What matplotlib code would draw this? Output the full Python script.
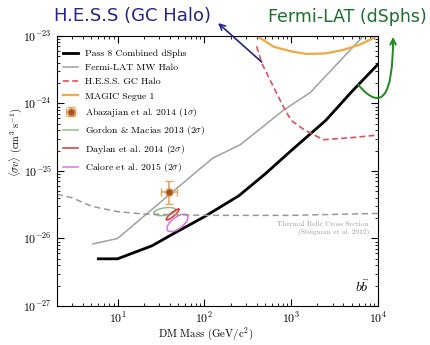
import numpy as np
import matplotlib
matplotlib.use("Agg")
import matplotlib.pyplot as plt

plt.rcParams.update({
    "font.family": "serif",
    "font.serif": ["cmr10", "DejaVu Serif"],
    "mathtext.fontset": "cm",
    "axes.formatter.use_mathtext": True,
    "axes.unicode_minus": False,
})

# --- limits (mass in GeV, <sigma v> in cm^3 s^-1) ---
pass8_mass = [6, 10, 25, 40, 100, 250, 500, 1000, 2500, 5000, 10000]
pass8_sv = [5.0e-27, 5.0e-27, 7.8e-27, 1.1e-26, 2.1e-26, 4.3e-26, 9.0e-26,
            2.0e-25, 5.6e-25, 1.5e-24, 3.8e-24]

mwhalo_mass = [5.2, 10, 83, 125, 260, 810, 1660, 6800, 10000]
mwhalo_sv = [8.3e-27, 1.0e-26, 1.0e-25, 1.55e-25, 2.45e-25, 7.9e-25,
             1.45e-24, 1.0e-23, 1.6e-23]

hess_mass = [400, 460, 810, 1000, 1400, 2350, 4800, 10000]
hess_sv = [7.0e-24, 3.9e-24, 9.0e-25, 5.6e-25, 4.1e-25, 2.9e-25, 3.1e-25, 3.4e-25]

magic_mass = [400, 630, 1000, 1500, 2500, 4000, 6300, 10000]
magic_sv = [1.0e-23, 6.9e-24, 5.9e-24, 5.4e-24, 5.5e-24, 6.2e-24, 7.5e-24, 1.0e-23]

thermal_mass = [2, 3, 5, 10, 20, 100, 1000, 10000]
thermal_sv = [4.5e-26, 4.0e-26, 3.0e-26, 2.5e-26, 2.3e-26, 2.2e-26, 2.2e-26, 2.35e-26]

# Abazajian et al. 2014 best fit with 1-sigma errors
aba_mass = 39.0
aba_sv = 4.9e-26
aba_mass_err = [[7.4], [9.0]]
aba_sv_err = [[1.7e-26], [2.3e-26]]

# GC excess contours: centre mass, centre <sigma v>, semi-axes (decades), tilt (deg)
gordon = (35.0, 2.5e-26, 0.13, 0.055, 12)
daylan = (43.0, 2.26e-26, 0.105, 0.025, 48)
calore = (49.0, 1.7e-26, 0.16, 0.075, 48)

x_ticks = [10, 100, 1000, 10000]
y_ticks = [1e-27, 1e-26, 1e-25, 1e-24, 1e-23]


def ellipse_curve(m0, sv0, a, b, ang_deg, n=200):
    t = np.linspace(0, 2 * np.pi, n)
    th = np.deg2rad(ang_deg)
    lx = np.log10(m0) + a * np.cos(t) * np.cos(th) - b * np.sin(t) * np.sin(th)
    ly = np.log10(sv0) + a * np.cos(t) * np.sin(th) + b * np.sin(t) * np.cos(th)
    return 10 ** lx, 10 ** ly


fig = plt.figure(figsize=(4.31, 3.45), dpi=100)
ax = fig.add_axes([0.132, 0.113, 0.745, 0.783])

handles = []
handles += ax.plot(pass8_mass, pass8_sv, color="black", lw=2.0, label="Pass 8 Combined dSphs")
handles += ax.plot(mwhalo_mass, mwhalo_sv, color="#a0a0a0", lw=1.1, label="Fermi-LAT MW Halo")
handles += ax.plot(hess_mass, hess_sv, color="#e0505a", lw=1.2, ls=(0, (3.5, 2)),
                   label="H.E.S.S. GC Halo")
handles += ax.plot(magic_mass, magic_sv, color="#f0a840", lw=1.6, label="MAGIC Segue 1")
handles.append(ax.errorbar([aba_mass], [aba_sv], xerr=aba_mass_err, yerr=aba_sv_err,
                           fmt="o", color="#a0522d", ms=5, mec="#d08840",
                           ecolor="#e8a860", elinewidth=1.2, capsize=3,
                           label=r"Abazajian et al. 2014 (1$\sigma$)"))
for params, col, lab in [(gordon, "#8fbf7f", r"Gordon & Macias 2013 (2$\sigma$)"),
                         (daylan, "#e03030", r"Daylan et al. 2014 (2$\sigma$)"),
                         (calore, "#e070e0", r"Calore et al. 2015 (2$\sigma$)")]:
    ex, ey = ellipse_curve(*params)
    handles += ax.plot(ex, ey, color=col, lw=1.1, label=lab)
ax.plot(thermal_mass, thermal_sv, color="#999999", lw=1.1, ls=(0, (4, 2.5)))

ax.set_xscale("log")
ax.set_yscale("log")
ax.set_xticks(x_ticks)
ax.set_yticks(y_ticks)
ax.set_xlim(2, 1e4)
ax.set_ylim(1e-27, 1e-23)
ax.tick_params(which="both", direction="in", top=True, right=True, labelsize=8.5)
ax.tick_params(which="major", length=5)
ax.tick_params(which="minor", length=2.5)

ax.set_xlabel(r"DM Mass (GeV/c$^2$)", fontsize=7.8)
ax.xaxis.set_label_coords(0.464, -0.07)
ax.set_ylabel(r"$\langle \sigma v \rangle$ (cm$^3$ s$^{-1}$)", fontsize=7.5)
ax.yaxis.set_label_coords(-0.102, 0.607)

ax.text(0.972, 0.26, "Thermal Relic Cross Section\n(Steigman et al. 2012)",
        transform=ax.transAxes, ha="right", va="bottom", fontsize=5.3,
        color="#999999", multialignment="right", linespacing=1.3)
ax.text(0.975, 0.04, r"$b\bar{b}$", transform=ax.transAxes, ha="right",
        va="bottom", fontsize=10)

ax.legend(handles=handles, loc="upper left", bbox_to_anchor=(0.019, 0.95),
          frameon=False, fontsize=7, handlelength=1.55, labelspacing=0.55,
          borderaxespad=0, borderpad=0, handletextpad=0.72)

# handwritten-style call-outs
fig.text(0.308, 0.955, "H.E.S.S (GC Halo)", color="#24248a", fontsize=13,
         ha="center", va="center", family="DejaVu Sans")
fig.text(0.807, 0.95, "Fermi-LAT (dSphs)", color="#1f6e2e", fontsize=12.5,
         ha="center", va="center", family="DejaVu Sans")
ax.annotate("", xy=(0.506, 0.933), xycoords="figure fraction",
            xytext=(457, 4.1e-24), textcoords="data", annotation_clip=False,
            arrowprops=dict(arrowstyle="->", color="#24248a", lw=1.2,
                            shrinkA=0, shrinkB=0))
ax.annotate("", xy=(0.912, 0.893), xycoords="figure fraction",
            xytext=(5900, 1.9e-24), textcoords="data", annotation_clip=False,
            arrowprops=dict(arrowstyle="->", color="#1e8a1e", lw=1.4,
                            shrinkA=0, shrinkB=0,
                            connectionstyle="angle3,angleA=-50,angleB=90"))

fig.savefig("out.png", dpi=100)
